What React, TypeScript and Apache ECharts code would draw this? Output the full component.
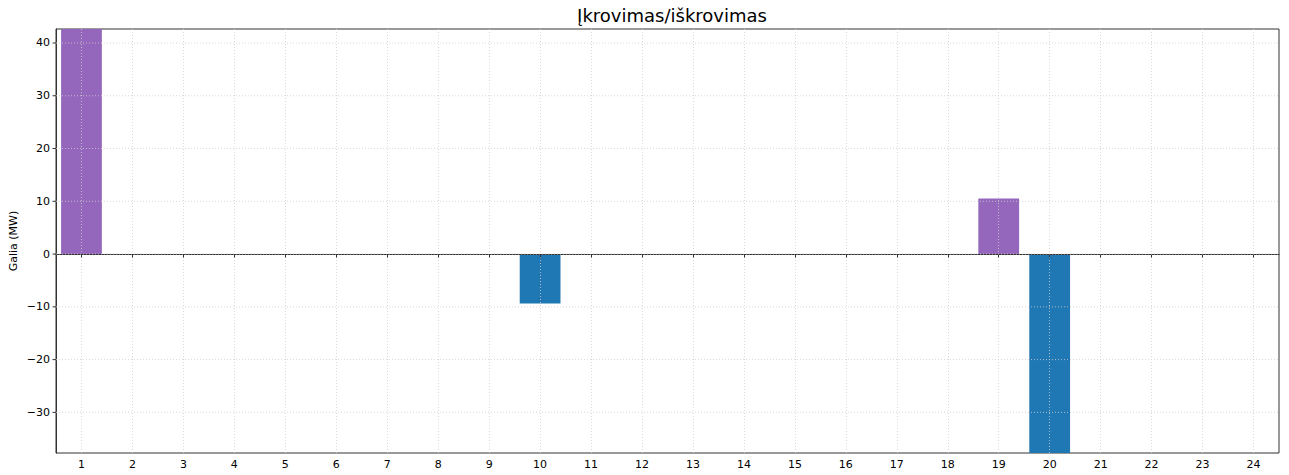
import React, { useEffect, useRef } from "react";
import * as echarts from "echarts";

const hours = Array.from({ length: 24 }, (_, i) => String(i + 1));
const chargeValues: (number | null)[] = [
  42.65, null, null, null, null, null, null, null, null, null, null, null,
  null, null, null, null, null, null, 10.55, null, null, null, null, null,
];
const dischargeValues: (number | null)[] = [
  null, null, null, null, null, null, null, null, null, -9.35, null, null,
  null, null, null, null, null, null, null, -37.7, null, null, null, null,
];
const yTicks = [-30, -20, -10, 0, 10, 20, 30, 40];
const yMin = -37.7;
const yMax = 42.65;
const titleText = "Įkrovimas/iškrovimas";
const yName = "Galia (MW)";

const FONT = "DejaVu Sans";

export default function App() {
  const ref = useRef<HTMLDivElement>(null);
  useEffect(() => {
    if (!ref.current) return;
    const chart = echarts.init(ref.current, undefined, { renderer: "svg" });
    const gridColor = "#cfcfcf";
    const gridLine = { show: true, lineStyle: { color: gridColor, type: [1, 2], width: 0.8 } };
    chart.setOption({
      animation: false,
      backgroundColor: "#ffffff",
      title: {
        text: titleText,
        left: 667,
        textAlign: "center",
        top: 1,
        textStyle: { fontFamily: FONT, fontSize: 18, fontWeight: "normal", color: "#000" },
      },
      grid: {
        left: 56,
        right: 10,
        top: 29,
        bottom: 22,
        show: true,
        borderColor: "#333",
        borderWidth: 1,
        backgroundColor: "transparent",
      },
      xAxis: {
        type: "category",
        data: hours,
        boundaryGap: true,
        z: 5,
        axisLine: { show: true, lineStyle: { color: "#333", width: 1 } },
        axisTick: { show: true, alignWithLabel: true, length: 3.5, lineStyle: { color: "#333" } },
        axisLabel: { fontFamily: FONT, fontSize: 11, color: "#000", margin: 6, interval: 0 },
        splitLine: { ...gridLine, alignWithLabel: true },
      },
      yAxis: {
        type: "value",
        min: yMin,
        max: yMax,
        z: 5,
        name: yName,
        nameLocation: "middle",
        nameGap: 37,
        nameTextStyle: { fontFamily: FONT, fontSize: 11, color: "#000" },
        axisLine: { show: true, lineStyle: { color: "#333", width: 1 } },
        axisTick: { show: false },
        axisLabel: { show: false },
        splitLine: { show: false },
      },
      series: [
        {
          name: "Įkrovimas",
          type: "bar",
          data: chargeValues,
          barWidth: "80%",
          barGap: "-100%",
          itemStyle: { color: "#9467bd" },
          markLine: {
            silent: true,
            symbol: "none",
            label: { show: false },
            lineStyle: { color: "#333", width: 0.8, type: "solid" },
            data: [{ yAxis: 0 }],
          },
        },
        {
          name: "Iškrovimas",
          type: "bar",
          data: dischargeValues,
          barWidth: "80%",
          barGap: "-100%",
          itemStyle: { color: "#1f77b4" },
        },
        {
          name: "yTicks",
          type: "custom",
          z: 6,
          clip: false,
          silent: true,
          data: yTicks.map((t) => [0, t]),
          renderItem: (params: any, api: any) => {
            const cs = params.coordSys;
            const v = api.value(1);
            const y = api.coord([0, v])[1];
            const label = String(v).replace("-", "\u2212");
            return {
              type: "group",
              children: [
                {
                  type: "line",
                  shape: { x1: cs.x, y1: y, x2: cs.x + cs.width, y2: y },
                  style: { stroke: gridColor, lineWidth: 0.8, lineDash: [1, 2] },
                },
                {
                  type: "line",
                  shape: { x1: cs.x - 3.5, y1: y, x2: cs.x, y2: y },
                  style: { stroke: "#333", lineWidth: 1 },
                },
                {
                  type: "text",
                  x: cs.x - 6,
                  y: y,
                  style: {
                    text: label,
                    fontFamily: FONT,
                    fontSize: 11,
                    fill: "#000",
                    align: "right",
                    verticalAlign: "middle",
                  },
                },
              ],
            };
          },
        },
      ],
    });
    return () => chart.dispose();
  }, []);
  return (
    <div
      ref={ref}
      style={{ position: "fixed", left: 0, top: 0, width: 1289, height: 475 }}
    />
  );
}
